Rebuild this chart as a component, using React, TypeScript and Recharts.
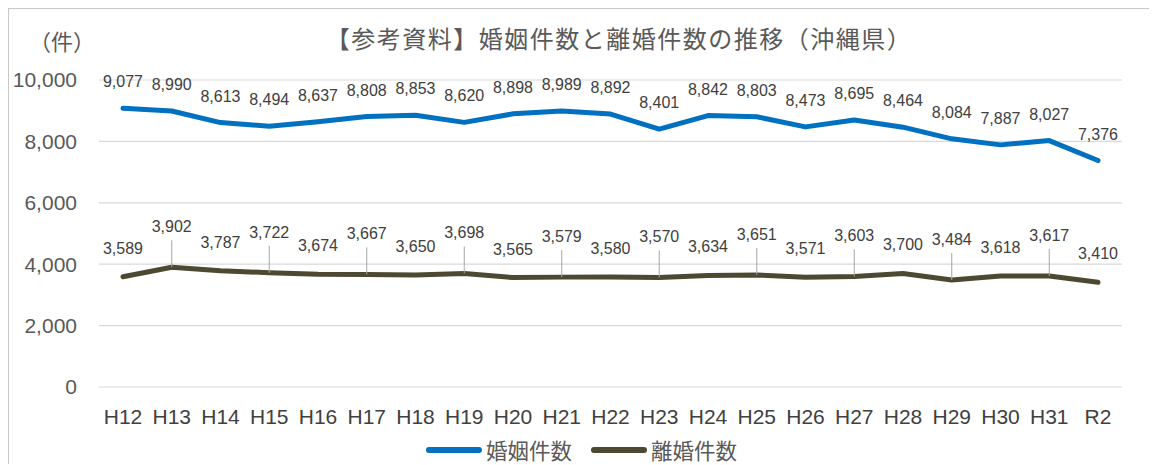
import React from "react";
import {
  CartesianGrid,
  LabelList,
  Legend,
  Line,
  LineChart,
  XAxis,
  YAxis,
} from "recharts";

const years = [
  "H12", "H13", "H14", "H15", "H16", "H17", "H18", "H19", "H20", "H21", "H22",
  "H23", "H24", "H25", "H26", "H27", "H28", "H29", "H30", "H31", "R2",
];
const marriages = [
  9077, 8990, 8613, 8494, 8637, 8808, 8853, 8620, 8898, 8989, 8892, 8401, 8842,
  8803, 8473, 8695, 8464, 8084, 7887, 8027, 7376,
];
const divorces = [
  3589, 3902, 3787, 3722, 3674, 3667, 3650, 3698, 3565, 3579, 3580, 3570, 3634,
  3651, 3571, 3603, 3700, 3484, 3618, 3617, 3410,
];
const yTicks = [0, 2000, 4000, 6000, 8000, 10000];

const BLUE = "#0070c0";
const DARK = "#4d4831";
const LATIN = "'Liberation Sans', Arial, sans-serif";
const CJK = "'Noto Sans CJK JP', sans-serif";

const data = years.map((year, i) => ({
  year,
  marriage: marriages[i],
  divorce: divorces[i],
}));

const fmt = (v: number) => v.toLocaleString("en-US");

function MarriageLabel(props: any) {
  const { x, y, value } = props;
  return (
    <text
      x={x}
      y={y - 27 + 6}
      textAnchor="middle"
      fontSize={16}
      fontFamily={LATIN}
      fill="#404040"
    >
      {fmt(value)}
    </text>
  );
}

function DivorceLabel(props: any) {
  const { x, y, value, index } = props;
  const leader = index % 2 === 1;
  const cy = leader ? y - 41 : y - 29;
  return (
    <g>
      {leader && (
        <line x1={x} x2={x} y1={cy + 14} y2={y} stroke="#a6a6a6" strokeWidth={1} />
      )}
      <text
        x={x}
        y={cy + 6}
        textAnchor="middle"
        fontSize={16}
        fontFamily={LATIN}
        fill="#404040"
      >
        {fmt(value)}
      </text>
    </g>
  );
}

function LegendBox() {
  const items = [
    { name: "婚姻件数", color: BLUE },
    { name: "離婚件数", color: DARK },
  ];
  return (
    <div style={{ display: "flex", alignItems: "center", height: 22 }}>
      {items.map((it) => (
        <div
          key={it.name}
          style={{ display: "flex", alignItems: "center", marginRight: 19 }}
        >
          <svg width={56} height={12}>
            <line
              x1={3}
              x2={53}
              y1={6}
              y2={6}
              stroke={it.color}
              strokeWidth={6}
              strokeLinecap="round"
            />
          </svg>
          <span
            style={{
              marginLeft: 4,
              fontFamily: CJK,
              fontSize: 21.5,
              color: "#595959",
              lineHeight: "22px",
            }}
          >
            {it.name}
          </span>
        </div>
      ))}
    </div>
  );
}

export default function App() {
  return (
    <div
      style={{
        position: "relative",
        width: 1140,
        height: 455,
        border: "1px solid #c8c8c8",
        borderBottom: "none",
        background: "#fff",
      }}
    >
      <div
        style={{
          position: "absolute",
          left: 0,
          width: 1220,
          top: 14,
          textAlign: "center",
          fontFamily: CJK,
          fontSize: 24,
          letterSpacing: 1.5,
          color: "#595959",
          lineHeight: "30px",
          whiteSpace: "nowrap",
        }}
      >
        【参考資料】婚姻件数と離婚件数の推移（沖縄県）
      </div>
      <div
        style={{
          position: "absolute",
          left: 20,
          top: 16,
          fontFamily: CJK,
          fontSize: 22,
          color: "#595959",
          lineHeight: "30px",
        }}
      >
        （件）
      </div>
      <LineChart
        width={1140}
        height={455}
        data={data}
        margin={{ top: 71, right: 27, left: 0, bottom: 0 }}
      >
        <CartesianGrid vertical={false} stroke="#d9d9d9" strokeWidth={1.2} />
        <XAxis
          dataKey="year"
          axisLine={false}
          tickLine={false}
          height={77}
          tickMargin={16}
          padding={{ left: 24, right: 24 }}
          interval={0}
          tick={{ fontSize: 21, fontFamily: LATIN, fill: "#404040" }}
        />
        <YAxis
          domain={[0, 10000]}
          ticks={yTicks}
          width={90}
          axisLine={false}
          tickLine={false}
          tickMargin={16}
          tickFormatter={fmt}
          tick={{ fontSize: 21, fontFamily: LATIN, fill: "#595959" }}
        />
        <Legend
          layout="horizontal"
          verticalAlign="middle"
          align="center"
          content={() => <LegendBox />}
          wrapperStyle={{ top: 430, left: 417, width: "auto" }}
        />
        <Line
          type="linear"
          dataKey="marriage"
          name="婚姻件数"
          stroke={BLUE}
          strokeWidth={5}
          strokeLinejoin="round"
          strokeLinecap="round"
          dot={false}
          activeDot={false}
          isAnimationActive={false}
        >
          <LabelList dataKey="marriage" content={MarriageLabel} />
        </Line>
        <Line
          type="linear"
          dataKey="divorce"
          name="離婚件数"
          stroke={DARK}
          strokeWidth={5}
          strokeLinejoin="round"
          strokeLinecap="round"
          dot={false}
          activeDot={false}
          isAnimationActive={false}
        >
          <LabelList dataKey="divorce" content={DivorceLabel} />
        </Line>
      </LineChart>
    </div>
  );
}
